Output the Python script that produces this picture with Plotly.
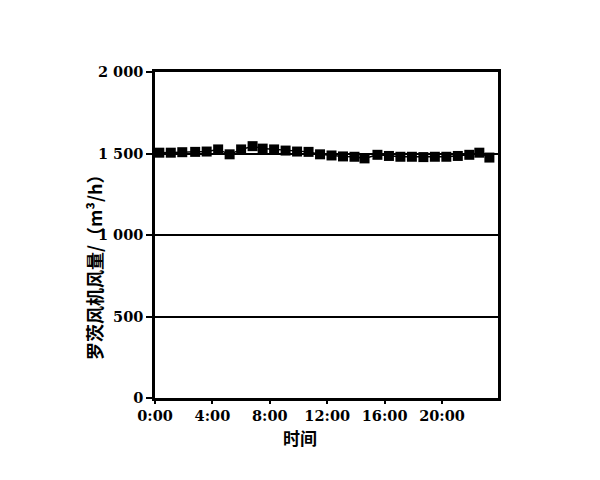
import plotly.graph_objects as go

# time of each reading (hours) and the blower air volume (m3/h)
hours = [0.3, 1.1, 1.9, 2.8, 3.6, 4.4, 5.2, 6.0, 6.8, 7.5, 8.3, 9.1, 9.9, 10.7, 11.5,
         12.3, 13.1, 13.9, 14.6, 15.5, 16.3, 17.1, 17.9, 18.7, 19.5, 20.3, 21.1, 21.9, 22.6, 23.3]
flow = [1505, 1505, 1508, 1510, 1512, 1525, 1495, 1525, 1545, 1530, 1525, 1518, 1512, 1510, 1495,
        1488, 1482, 1480, 1470, 1492, 1485, 1480, 1480, 1478, 1480, 1480, 1485, 1492, 1505, 1475]

tick_hours = [0, 4, 8, 12, 16, 20]
tick_text = ["0:00", "4:00", "8:00", "12:00", "16:00", "20:00"]
y_ticks = [0, 500, 1000, 1500, 2000]
y_text = ["0", "500", "1 000", "1 500", "2 000"]

serif = dict(family="DejaVu Serif", size=14.5, color="black", weight="bold")

fig = go.Figure()
fig.add_trace(go.Scatter(
    x=hours, y=flow, mode="lines+markers",
    line=dict(color="black", width=1.5),
    marker=dict(symbol="square", size=10, color="black"),
    showlegend=False,
))

fig.update_xaxes(
    range=[0, 23.9], tickvals=tick_hours, ticktext=tick_text,
    showgrid=False, zeroline=False,
    showline=True, linecolor="black", linewidth=2.5, mirror=True,
    ticks="outside", ticklen=3, tickwidth=2, tickcolor="black",
    tickfont=serif,
)
fig.update_yaxes(
    range=[0, 2000], tickvals=y_ticks, ticktext=y_text,
    showgrid=True, gridcolor="black", gridwidth=1.5, zeroline=False,
    showline=True, linecolor="black", linewidth=2.5, mirror=True,
    ticks="outside", ticklen=6, tickwidth=2, tickcolor="black",
    tickfont=serif,
)

fig.add_annotation(
    text="<b>罗茨风机风量/（m³/h）</b>", textangle=-90,
    xref="paper", yref="paper", x=-0.18, y=0.415,
    xanchor="center", yanchor="middle",
    showarrow=False, font=dict(family="Noto Sans CJK SC", size=18, color="black"),
)
fig.add_annotation(
    text="<b>时间</b>",
    xref="paper", yref="paper", x=0.423, y=-0.12,
    xanchor="center", yanchor="middle",
    showarrow=False, font=dict(family="Noto Sans CJK SC", size=17, color="black"),
)

fig.update_layout(
    width=600, height=480,
    margin=dict(l=147, r=110, t=64, b=90),
    paper_bgcolor="white", plot_bgcolor="white",
)

fig.write_html("out.html")
